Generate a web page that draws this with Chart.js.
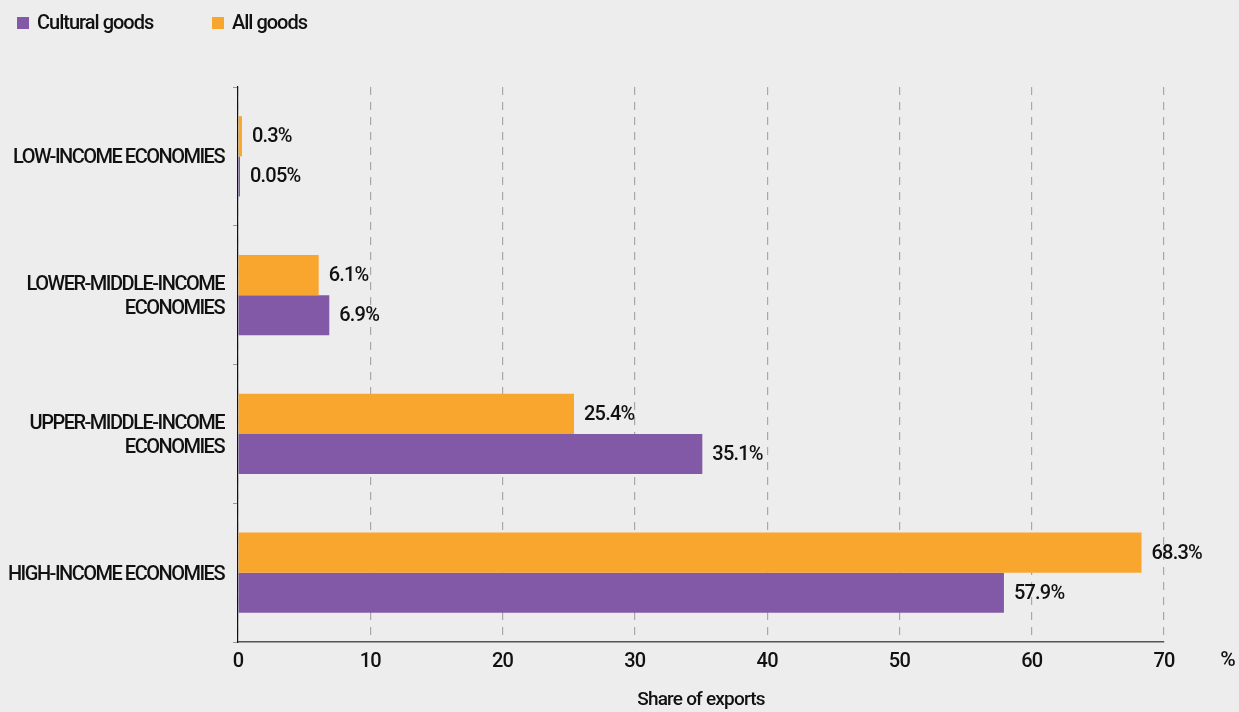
<!DOCTYPE html>
<html>
<head>
<meta charset="utf-8">
<script src="https://cdn.jsdelivr.net/npm/chart.js@4/dist/chart.umd.min.js"></script>
<style>
  html, body { margin: 0; padding: 0; background: #ededed; }
  #wrap { position: relative; width: 1239px; height: 712px; }
  #legend { position: absolute; left: 17px; top: 11px; font-family: Roboto, sans-serif; font-weight: 500; font-size: 20px; letter-spacing: -1px; color: #111; line-height: 23px; }
  #legend span.item { position: absolute; white-space: nowrap; top: 0; }
  #legend span.box { display: inline-block; width: 12px; height: 12px; margin-right: 8px; vertical-align: 0px; }
</style>
</head>
<body>
<div id="wrap">
  <canvas id="myChart" width="1239" height="712"></canvas>
  <div id="legend"></div>
</div>
<script>
const FONT = 'Roboto, sans-serif';

// data
const categories = [
    ['LOW-INCOME ECONOMIES'],
    ['LOWER-MIDDLE-INCOME', 'ECONOMIES'],
    ['UPPER-MIDDLE-INCOME', 'ECONOMIES'],
    ['HIGH-INCOME ECONOMIES']
];
const allGoods = [0.3, 6.1, 25.4, 68.3];
const culturalGoods = [0.05, 6.9, 35.1, 57.9];
const xTicks = [0, 10, 20, 30, 40, 50, 60, 70];

const purple = '#8259a6';
const orange = '#f9a62e';

// legend (cultural goods listed first)
const legendItems = [
    { label: 'Cultural goods', color: purple, left: 0 },
    { label: 'All goods', color: orange, left: 195 }
];
let legendEl = document.getElementById('legend');
legendItems.forEach(function (it) {
    let s = document.createElement('span');
    s.className = 'item';
    s.style.left = it.left + 'px';
    s.innerHTML = '<span class="box" style="background:' + it.color + '"></span>' + it.label;
    legendEl.appendChild(s);
});

const valueLabels = {
    id: 'valueLabels',
    afterDatasetsDraw(chart) {
        const ctx = chart.ctx;
        ctx.save();
        ctx.letterSpacing = '-0.8px';
        ctx.font = '500 20px ' + FONT;
        ctx.fillStyle = '#111';
        ctx.textBaseline = 'middle';
        ctx.textAlign = 'left';
        chart.data.datasets.forEach(function (ds, i) {
            chart.getDatasetMeta(i).data.forEach(function (bar, j) {
                ctx.fillText(ds.data[j] + '%', bar.x + 10, bar.y + 1);
            });
        });
        ctx.restore();
    }
};

// condensed look: x labels a little tight, category labels tighter
// (y labels use ticks.z = 1 so they are drawn after the datasets)
const tightText = {
    id: 'tightText',
    beforeLayout(chart) { chart.ctx.letterSpacing = '-0.8px'; },
    beforeDraw(chart) { chart.ctx.letterSpacing = '-0.8px'; },
    afterDatasetsDraw(chart) { chart.ctx.letterSpacing = '-1.5px'; }
};

const percentSign = {
    id: 'percentSign',
    afterDraw(chart) {
        const ctx = chart.ctx;
        const x = chart.scales.x;
        ctx.save();
        ctx.letterSpacing = '0px';
        ctx.font = '500 21px ' + FONT;
        ctx.fillStyle = '#111';
        ctx.textBaseline = 'middle';
        ctx.textAlign = 'center';
        ctx.fillText('%', 1228, x.top + 19);
        ctx.restore();
    }
};

let myChart = new Chart(document.getElementById('myChart').getContext('2d'), {
    type: 'bar',
    data: {
        labels: categories,
        datasets: [{
            label: 'All goods',
            data: allGoods,
            backgroundColor: orange,
            categoryPercentage: 0.58,
            barPercentage: 1,
            minBarLength: 2
        }, {
            label: 'Cultural goods',
            data: culturalGoods,
            backgroundColor: purple,
            categoryPercentage: 0.58,
            barPercentage: 1,
            minBarLength: 2
        }]
    },
    options: {
        indexAxis: 'y',
        responsive: false,
        animation: false,
        layout: { padding: { top: 87, right: 75, left: 0, bottom: 0 } },
        plugins: {
            legend: { display: false },
            tooltip: { enabled: false }
        },
        scales: {
            x: {
                min: 0,
                max: 70,
                afterBuildTicks: function (scale) {
                    scale.ticks = xTicks.map(function (v) { return { value: v }; });
                },
                afterFit: function (scale) { scale.height = 70; },
                grid: {
                    color: '#a8a8a8',
                    lineWidth: 1.2,
                    drawTicks: false
                },
                border: { color: '#555', width: 1.5, dash: [8, 7] },
                ticks: {
                    padding: 8,
                    color: '#111',
                    font: { family: FONT, size: 20, weight: '500' }
                },
                title: {
                    display: true,
                    text: 'Share of exports',
                    color: '#111',
                    font: { family: FONT, size: 19, weight: '500' },
                    padding: { top: 0, bottom: 0 }
                }
            },
            y: {
                afterFit: function (scale) { scale.width = 238; },
                grid: {
                    offset: true,
                    drawOnChartArea: false,
                    tickLength: 5,
                    color: '#999'
                },
                border: { color: '#111', width: 1.2 },
                ticks: {
                    z: 1,
                    padding: 9,
                    labelOffset: 2,
                    color: '#111',
                    font: { family: FONT, size: 20, weight: '500', lineHeight: 1.22 }
                }
            }
        }
    },
    plugins: [valueLabels, tightText, percentSign]
});
</script>
</body>
</html>
